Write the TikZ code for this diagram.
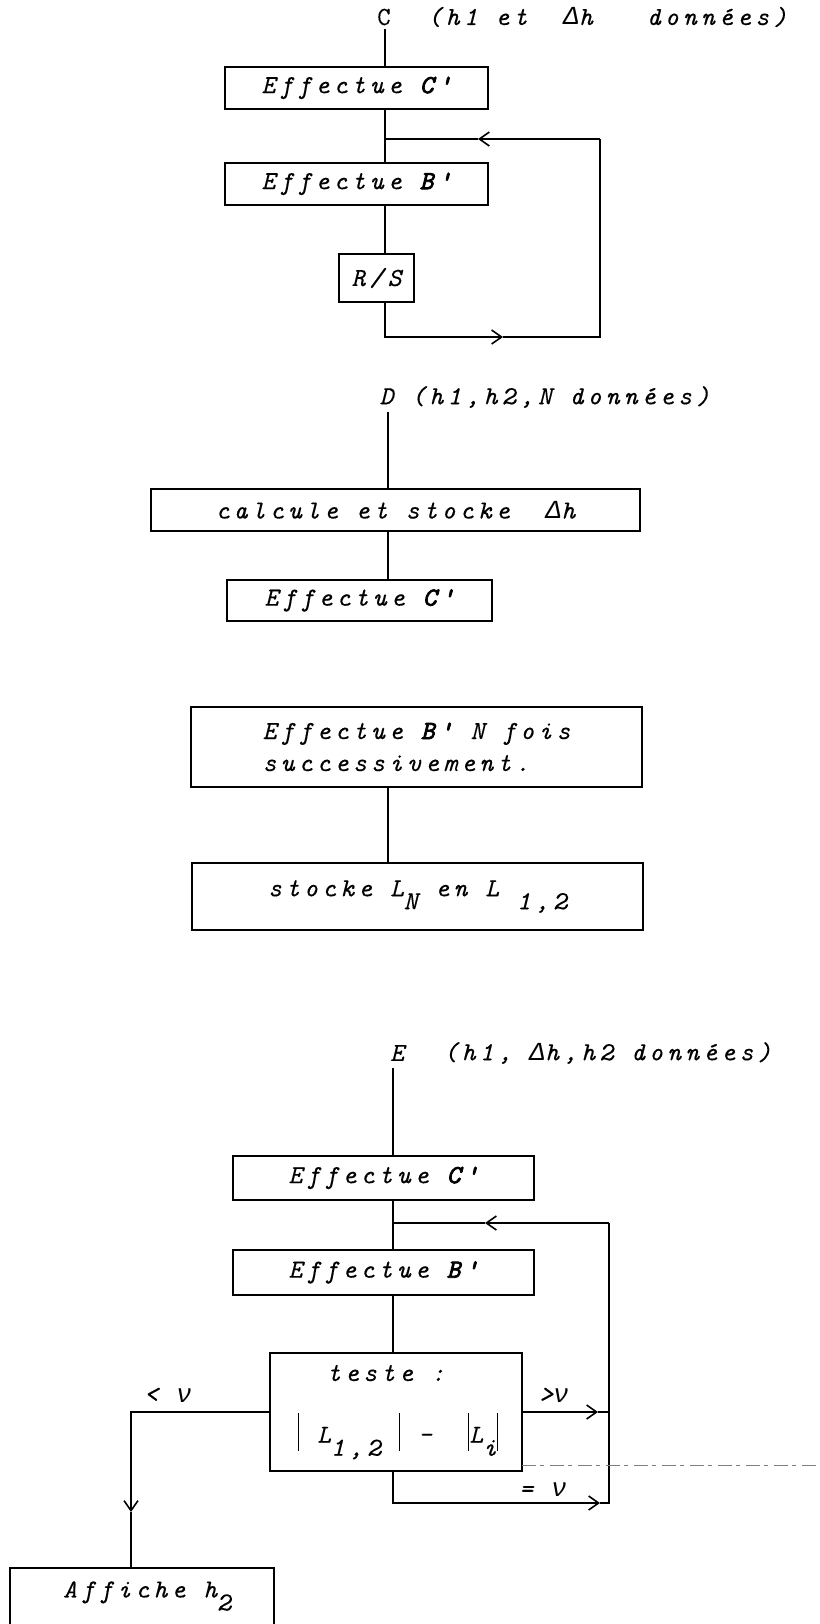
\documentclass[tikz,border=0pt]{standalone}
\usepackage{fontspec}
\newfontfamily\tw[LetterSpace=17,FakeBold=0.3]{Latin Modern Mono}
\newfontfamily\twb[LetterSpace=17,FakeBold=3]{Latin Modern Mono}
\newfontfamily\twg[LetterSpace=12]{Liberation Mono}
\usetikzlibrary{arrows.meta}
\newcommand\sbx[1]{\raisebox{-6.5pt}{#1}}
\newcommand\vbr{\rule[-4pt]{0.7pt}{19pt}}
\newcommand\Dlt{{\twg\itshape Δ}}
\newcommand\nuu{{\twg\itshape ν}}
\newcommand\bd[1]{{\twb\itshape #1}}
\begin{document}
\begin{tikzpicture}[x=0.5pt,y=-0.5pt,line width=0.8pt,
  every node/.style={font=\tw\itshape\fontsize{13}{16}\selectfont, inner sep=0pt},
  box/.style={draw, line width=0.8pt},
  >={Straight Barb[length=5pt,width=7pt]},
  artline/.style={gray, line width=0.4pt, dash pattern=on 7pt off 2pt on 2pt off 3pt}]
\useasboundingbox (0,0) rectangle (820,1624);
\clip (0,0) rectangle (820,1624);
\fill[white] (0,0) rectangle (820,1624);

% ---------------- Section C
\coordinate (sC) at (385,0);
\node (cl) at (384,17) {\upshape C};
\node[anchor=west] (cg) at (427,17) {(h1~et~~\Dlt h~~~données)};
\node[box, minimum width=131.5pt, minimum height=21pt] (Cc) at (356.5,88) {Effectue \bd{C'}};
\node[box, minimum width=131.5pt, minimum height=21pt] (Cb) at (356.5,184) {Effectue \bd{B'}};
\node[box, minimum width=37.5pt, minimum height=24pt] (Crs) at (376.5,278) {R/S};
\coordinate (cA) at (503,337);
\coordinate (cR1) at (600,337);
\coordinate (cR2) at (600,139);
\coordinate (cB) at (478,139);
\coordinate (cJ) at (385,139);
\draw[shorten <=1.5pt] (cl.south -| sC) -- (Cc.north -| sC);
\draw (Cc.south -| sC) -- (Cb.north -| sC);
\draw (Cb.south -| sC) -- (Crs.north -| sC);
\draw[->] (Crs.south -| sC) |- (cA);
\draw (cA) -- (cR1) -- (cR2);
\draw[->] (cR2) -- (cB);
\draw (cB) -- (cJ);

% ---------------- Section D
\coordinate (sD) at (388,0);
\node[anchor=west] (dl) at (379,397) {D~(h1,h2,N~données)};
\node[box, minimum width=244.5pt, minimum height=21pt] (Dcalc) at (395.5,510) {calcule~et~stocke~~\Dlt h};
\node[box, minimum width=132.5pt, minimum height=20.5pt] (Dc) at (359.5,600.5) {Effectue \bd{C'}};
\node[box, minimum width=225.5pt, minimum height=40pt, align=left] (Dbn) at (416.5,747) {Effectue \bd{B'} N fois\\successivement.};
\node[box, minimum width=225.5pt, minimum height=33.5pt] (Dst) at (417.5,896.5) {stocke L\sbx{N} en L\sbx{~1,2}};
\draw[shorten <=1.5pt] (dl.south -| sD) -- (Dcalc.north -| sD);
\draw (Dcalc.south -| sD) -- (Dc.north -| sD);
\draw (Dbn.south -| sD) -- (Dst.north -| sD);

% ---------------- Section E
\coordinate (sE) at (393,0);
\node (el) at (397,1053) {E};
\node[anchor=west] (eg) at (443,1053) {(h1,~\Dlt h,h2~données)};
\node[box, minimum width=150.5pt, minimum height=22pt] (Ec) at (383.5,1178) {Effectue \bd{C'}};
\node[box, minimum width=150.5pt, minimum height=22.5pt] (Eb) at (383.5,1272.5) {Effectue \bd{B'}};
\node[box, minimum width=126pt, minimum height=59pt] (Et) at (396,1412) {};
\node (tt) at (386,1373) {teste :};
\node (tx) at (398,1436) {\vbr~L\sbx{1,2}~\vbr~-~~\vbr L\sbx{i}\vbr};
\node[box, minimum width=132pt, minimum height=46pt] (Ea) at (142,1614) {};
\node (at) at (147,1596) {Affiche h\sbx{2}};

\coordinate (eA) at (600,1503);
\coordinate (eR1) at (609,1503);
\coordinate (eR2) at (609,1223);
\coordinate (eB) at (485,1223);
\coordinate (eJ) at (393,1223);
\coordinate (eG) at (598,1412);
\coordinate (eV) at (131,1512);
\draw[shorten <=3pt] (el.south -| sE) -- (Ec.north -| sE);
\draw (Ec.south -| sE) -- (Eb.north -| sE);
\draw (Eb.south -| sE) -- (Et.north -| sE);
\draw[->] (Et.south -| sE) |- (eA);
\draw (eA) -- (eR1) -- (eR2);
\draw[->] (eR2) -- (eB);
\draw (eB) -- (eJ);
\draw[->] (Et.east) -- (eG);
\draw (eG) -- (eG -| eR1);
\draw[->] (Et.west) -| (eV);
\draw (eV) -- (Ea.north -| eV);

\node (lless) at (168,1395) {<~\nuu};
\node (lmore) at (554,1395) {>\nuu};
\node (lequal) at (543,1490) {=~\nuu};

\coordinate (artA) at (522,1465);
\coordinate (artB) at (820,1465);
\draw[artline] (artA) -- (artB);
\end{tikzpicture}
\end{document}
